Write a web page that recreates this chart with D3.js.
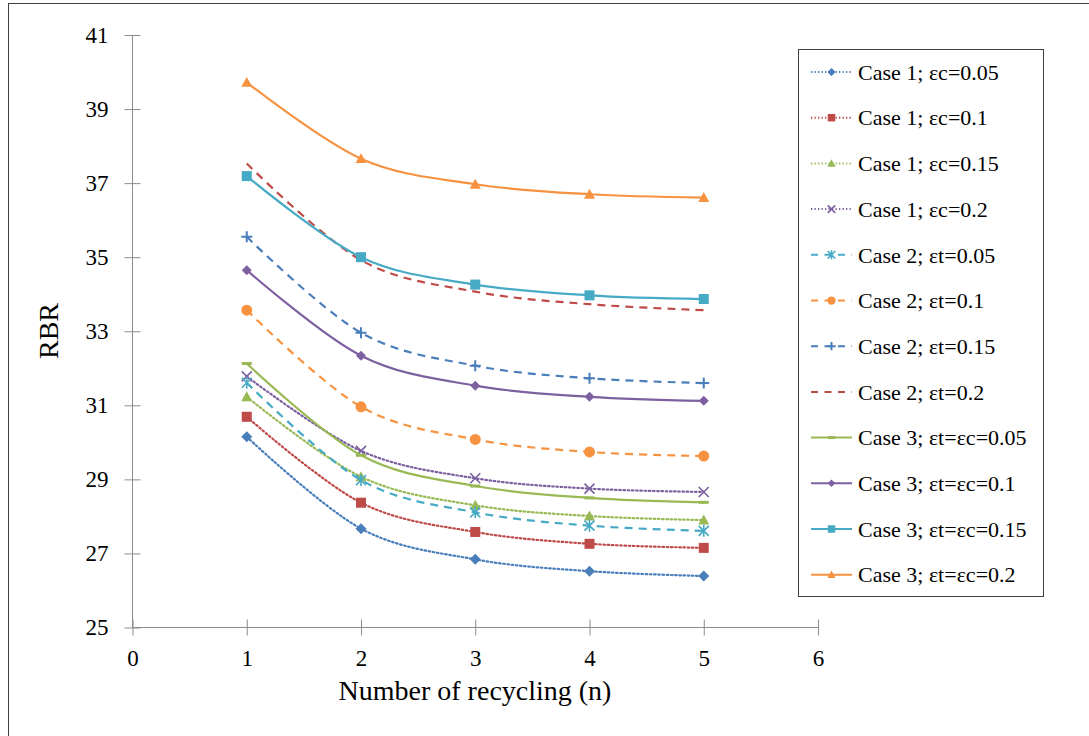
<!DOCTYPE html>
<html>
<head>
<meta charset="utf-8">
<script src="https://cdn.jsdelivr.net/npm/d3@7"></script>
<style>
  html, body { margin: 0; padding: 0; background: #fff; }
  svg { display: block; }
  text { font-family: "Liberation Serif", "Times New Roman", serif; fill: #000; }
</style>
</head>
<body>
<svg id="chart" width="1089" height="736"></svg>
<script>
// ---- data ----
const recyclingN = [1, 2, 3, 4, 5];
const xTicks = [0, 1, 2, 3, 4, 5, 6];
const yTicks = [25, 27, 29, 31, 33, 35, 37, 39, 41];

const seriesNames = [
  "Case 1; \u03b5c=0.05", "Case 1; \u03b5c=0.1", "Case 1; \u03b5c=0.15", "Case 1; \u03b5c=0.2",
  "Case 2; \u03b5t=0.05", "Case 2; \u03b5t=0.1", "Case 2; \u03b5t=0.15", "Case 2; \u03b5t=0.2",
  "Case 3; \u03b5t=\u03b5c=0.05", "Case 3; \u03b5t=\u03b5c=0.1", "Case 3; \u03b5t=\u03b5c=0.15", "Case 3; \u03b5t=\u03b5c=0.2"
];
const case1_c005 = [30.15, 27.67, 26.84, 26.52, 26.39];
const case1_c010 = [30.69, 28.37, 27.58, 27.26, 27.15];
const case1_c015 = [31.23, 29.07, 28.30, 28.01, 27.90];
const case1_c020 = [31.78, 29.77, 29.03, 28.75, 28.66];
const case2_t005 = [31.61, 28.98, 28.11, 27.75, 27.61];
const case2_t010 = [33.57, 30.96, 30.08, 29.74, 29.63];
const case2_t015 = [35.55, 32.96, 32.07, 31.73, 31.60];
const case2_t020 = [37.53, 34.92, 34.07, 33.73, 33.57];
const case3_005 = [32.13, 29.65, 28.82, 28.50, 28.38];
const case3_010 = [34.65, 32.34, 31.53, 31.23, 31.12];
const case3_015 = [37.19, 35.00, 34.26, 33.97, 33.87];
const case3_020 = [39.72, 37.66, 36.97, 36.70, 36.61];

const seriesValues = [case1_c005, case1_c010, case1_c015, case1_c020,
  case2_t005, case2_t010, case2_t015, case2_t020,
  case3_005, case3_010, case3_015, case3_020];

// ---- styles ----
const seriesColors = ["#4a7ebb", "#be4b48", "#98b954", "#7d60a0",
  "#46aac5", "#f69240", "#4a7ebb", "#be4b48",
  "#98b954", "#7d60a0", "#46aac5", "#f69240"];
const seriesDash = ["1.6,2.6", "1.6,2.6", "1.6,2.6", "1.6,2.6",
  "8,6", "8,6", "8,6", "8,6", null, null, null, null];
const seriesMarker = ["diamond", "square", "triangle", "x",
  "asterisk", "circle", "plus", "none",
  "dash", "diamondSmall", "square", "triangle"];

const svg = d3.select("#chart");
const W = 1089, H = 736;

// outer frame (only left & top visible in the reference)
svg.append("rect").attr("x", 8.5).attr("y", 3.5).attr("width", 1200).attr("height", 900)
  .attr("fill", "none").attr("stroke", "#404040").attr("stroke-width", 1);

const x = d3.scaleLinear().domain([0, 6]).range([132.5, 818]);
const y = d3.scaleLinear().domain([25, 41]).range([627.5, 35]);

const axisColor = "#8c8c8c";

// y axis
const yAxis = svg.append("g").attr("transform", `translate(${x(0)},0)`)
  .call(d3.axisLeft(y).tickValues(yTicks).tickSize(8).tickFormat(d3.format("d")));
yAxis.select(".domain").attr("stroke", axisColor);
yAxis.selectAll(".tick line").attr("stroke", axisColor).attr("x1", 8).attr("x2", -8);
yAxis.selectAll(".tick text").attr("x", -24).attr("font-size", 23)
  .attr("font-family", "Liberation Serif").attr("fill", "#000");

// x axis
const xAxis = svg.append("g").attr("transform", `translate(0,${y(25)})`)
  .call(d3.axisBottom(x).tickValues(xTicks).tickSize(8).tickFormat(d3.format("d")));
xAxis.select(".domain").attr("stroke", axisColor);
xAxis.selectAll(".tick line").attr("stroke", axisColor).attr("y1", -8).attr("y2", 8);
xAxis.selectAll(".tick text").attr("y", 22).attr("font-size", 23)
  .attr("font-family", "Liberation Serif").attr("fill", "#000");
svg.selectAll(".domain").attr("d", function() { return d3.select(this).attr("d"); });
yAxis.select(".domain").attr("d", `M0,${y(41)}V${y(25)}`);
xAxis.select(".domain").attr("d", `M${x(0)},0H${x(6)}`);

// axis titles
svg.append("text").attr("x", 475).attr("y", 700).attr("text-anchor", "middle")
  .attr("font-size", 28).text("Number of recycling (n)");
svg.append("text").attr("transform", "translate(58,331) rotate(-90)")
  .attr("text-anchor", "middle").attr("font-size", 28).text("RBR");

// marker drawing
function drawMarker(g, type, cx, cy, color, s) {
  const k = s || 1;
  switch (type) {
    case "diamond": {
      const r = 5.5 * k;
      g.append("path").attr("d", `M${cx},${cy - r}L${cx + r},${cy}L${cx},${cy + r}L${cx - r},${cy}Z`).attr("fill", color);
      break;
    }
    case "diamondSmall": {
      const r = 5 * k;
      g.append("path").attr("d", `M${cx},${cy - r}L${cx + r},${cy}L${cx},${cy + r}L${cx - r},${cy}Z`).attr("fill", color);
      break;
    }
    case "square": {
      const r = 5 * k;
      g.append("rect").attr("x", cx - r).attr("y", cy - r).attr("width", 2 * r).attr("height", 2 * r).attr("fill", color);
      break;
    }
    case "triangle": {
      const r = 5.5 * k;
      g.append("path").attr("d", `M${cx},${cy - r}L${cx + r},${cy + r * 0.8}L${cx - r},${cy + r * 0.8}Z`).attr("fill", color);
      break;
    }
    case "circle":
      g.append("circle").attr("cx", cx).attr("cy", cy).attr("r", 5.5 * k).attr("fill", color);
      break;
    case "x": {
      const r = 5 * k;
      g.append("path").attr("d", `M${cx - r},${cy - r}L${cx + r},${cy + r}M${cx - r},${cy + r}L${cx + r},${cy - r}`)
        .attr("stroke", color).attr("stroke-width", 1.6).attr("fill", "none");
      break;
    }
    case "asterisk": {
      const r = 5 * k;
      g.append("path").attr("d", `M${cx - r},${cy - r}L${cx + r},${cy + r}M${cx - r},${cy + r}L${cx + r},${cy - r}M${cx},${cy - r * 1.2}L${cx},${cy + r * 1.2}`)
        .attr("stroke", color).attr("stroke-width", 1.6).attr("fill", "none");
      break;
    }
    case "plus": {
      const r = 5.5 * k;
      g.append("path").attr("d", `M${cx - r},${cy}L${cx + r},${cy}M${cx},${cy - r}L${cx},${cy + r}`)
        .attr("stroke", color).attr("stroke-width", 2).attr("fill", "none");
      break;
    }
    case "dash": {
      const r = 5 * k;
      g.append("path").attr("d", `M${cx - r},${cy}L${cx + r},${cy}`)
        .attr("stroke", color).attr("stroke-width", 3).attr("fill", "none");
      break;
    }
    default: break;
  }
}

const line = d3.line().x(d => x(d[0])).y(d => y(d[1])).curve(d3.curveCardinal.tension(0));

const plot = svg.append("g");
seriesValues.forEach((vals, i) => {
  const pts = recyclingN.map((n, j) => [n, vals[j]]);
  const g = plot.append("g");
  g.append("path").datum(pts).attr("d", line)
    .attr("fill", "none").attr("stroke", seriesColors[i]).attr("stroke-width", 2.2)
    .attr("stroke-dasharray", seriesDash[i])
    .attr("stroke-linecap", seriesDash[i] && seriesDash[i].startsWith("1.6") ? "round" : "butt");
  pts.forEach(p => drawMarker(g, seriesMarker[i], x(p[0]), y(p[1]), seriesColors[i], 1));
});

// legend
const legend = svg.append("g");
legend.append("rect").attr("x", 798.5).attr("y", 49.5).attr("width", 245).attr("height", 547)
  .attr("fill", "#fff").attr("stroke", "#404040").attr("stroke-width", 1);
seriesNames.forEach((name, i) => {
  const cy = 72 + i * 45.7;
  const g = legend.append("g");
  g.append("line").attr("x1", 811).attr("x2", 852).attr("y1", cy).attr("y2", cy)
    .attr("stroke", seriesColors[i]).attr("stroke-width", 2)
    .attr("stroke-dasharray", seriesDash[i] ? (seriesDash[i].startsWith("1.6") ? "1.3,2.2" : "7,6.5") : null);
  drawMarker(g, seriesMarker[i], 831.5, cy, seriesColors[i], 0.75);
  g.append("text").attr("x", 858).attr("y", cy).attr("dy", "0.35em")
    .attr("font-size", 22).text(name);
});
</script>
</body>
</html>
